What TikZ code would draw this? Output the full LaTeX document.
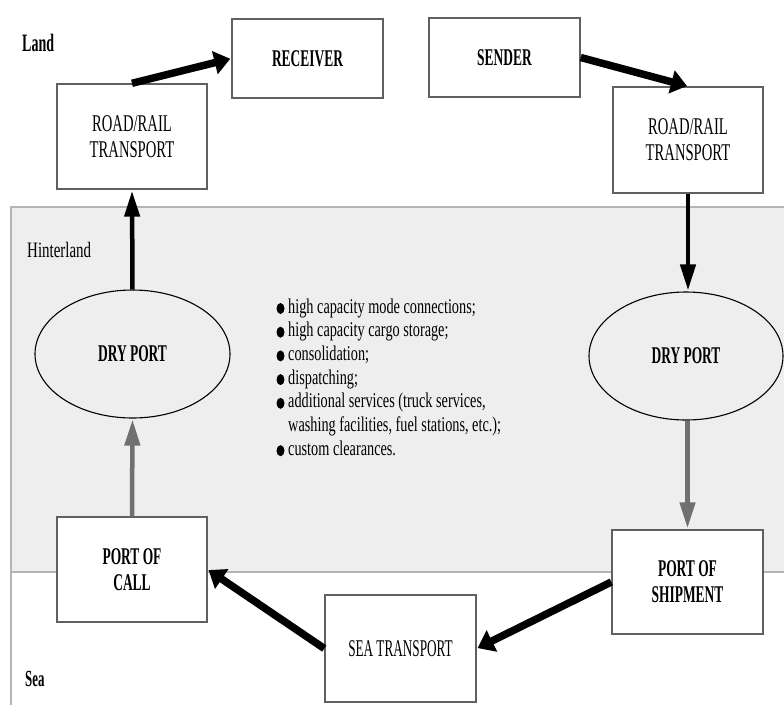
\documentclass[tikz,border=0pt]{standalone}
\usepackage{fontspec}
\setmainfont{Liberation Serif}[FakeStretch=0.61, BoldFeatures={FakeStretch=0.56}]
\newfontfamily\listfont{Liberation Serif}[FakeStretch=0.68]
\newfontfamily\seafont{Liberation Serif}[FakeStretch=0.55]
\usetikzlibrary{arrows.meta,shapes.geometric}
\definecolor{bandfill}{HTML}{EEEEEE}
\definecolor{bandline}{HTML}{B4B4B4}
\definecolor{boxline}{HTML}{606060}
\definecolor{arrowgrey}{HTML}{707070}
\newcommand\boxtextsize{\fontsize{24}{26}\selectfont}
\begin{document}
\begin{tikzpicture}[x=1pt,y=-1pt,
  stagebox/.style={rectangle, draw=boxline, line width=1.4pt, fill=white,
    inner sep=0pt, align=center, font=\boxtextsize},
  portoval/.style={ellipse, draw=black, line width=1.1pt, fill=bandfill,
    inner sep=0pt, font=\boxtextsize\bfseries},
  zonelabel/.style={anchor=base west, inner sep=0pt},
  bigarrow/.style={line width=7.5pt, -{Triangle[length=16pt,width=23pt]}, shorten >=1pt},
  vertarrow/.style={line width=4.5pt, -{Triangle[length=26pt,width=15pt]}, shorten >=1pt},
  greyarrow/.style={vertarrow, draw=arrowgrey}
]
\useasboundingbox (0,0) rectangle (784,705);

% hinterland band
\fill[bandfill] (11,207) rectangle (784,572);
\draw[bandline, line width=1.2pt] (784,207) -- (11,207) -- (11,705);
\draw[bandline, line width=1.2pt] (11,572) -- (784,572);

% zone labels
\node[zonelabel, font=\fontsize{25}{26}\selectfont\bfseries] (land) at (22,51) {Land};
\node[zonelabel, font=\fontsize{22}{24}\selectfont\listfont] (hinter) at (27,257) {Hinterland};
\node[zonelabel, font=\fontsize{23}{24}\selectfont\bfseries] (sealbl) at (25,686) {Sea};

% stages
\node[stagebox, minimum width=151pt, minimum height=79pt, font=\boxtextsize\bfseries] (recv) at (307.5,58.5) {RECEIVER};
\node[stagebox, minimum width=151pt, minimum height=79pt, font=\boxtextsize\bfseries] (send) at (504.5,57.5) {SENDER};
\node[stagebox, minimum width=150pt, minimum height=105pt] (rrl) at (132,136.5) {ROAD/RAIL\\TRANSPORT};
\node[stagebox, minimum width=150pt, minimum height=106pt] (rrr) at (688,140) {ROAD/RAIL\\TRANSPORT};
\node[portoval, minimum width=195pt, minimum height=128pt] (dpl) at (132.5,354) {DRY PORT};
\node[portoval, minimum width=194pt, minimum height=128pt] (dpr) at (686,356) {DRY PORT};
\node[stagebox, minimum width=150pt, minimum height=105pt, font=\boxtextsize\bfseries] (poc) at (132,569.5) {PORT OF\\CALL};
\node[stagebox, minimum width=151pt, minimum height=104pt, font=\boxtextsize\bfseries] (pos) at (687.5,582) {PORT OF\\SHIPMENT};
\node[stagebox, minimum width=151pt, minimum height=107pt, font=\boxtextsize\seafont] (sea) at (400.5,648.5) {SEA TRANSPORT};

% dry port functions
\foreach \yb in {313,336.7,360.4,384.1,407.8,455.2}
  \fill (280.5,\yb-4.5) ellipse (4pt and 5.5pt);
\node[anchor=north west, inner sep=0pt, font=\fontsize{21}{23.7}\selectfont\listfont] (functions) at (288,296.4) {%
  \begin{tabular}{@{}l@{}}
  high capacity mode connections;\\
  high capacity cargo storage;\\
  consolidation;\\
  dispatching;\\
  additional services (truck services,\\
  washing facilities, fuel stations, etc.);\\
  custom clearances.
  \end{tabular}};

% flow of goods
\draw[bigarrow] (send.east) -- (rrr.north);
\draw[vertarrow] (rrr.south) -- (rrr.south |- dpr.north);
\draw[greyarrow] (pos.north |- dpr.south) -- (pos.north);
\draw[bigarrow] (pos.west) -- (sea.east);
\draw[bigarrow] (sea.west) -- (poc.east);
\draw[greyarrow] (poc.north) -- (dpl.south);
\draw[vertarrow] (dpl.north) -- (rrl.south);
\draw[bigarrow] (rrl.north) -- (recv.west);
\end{tikzpicture}
\end{document}
